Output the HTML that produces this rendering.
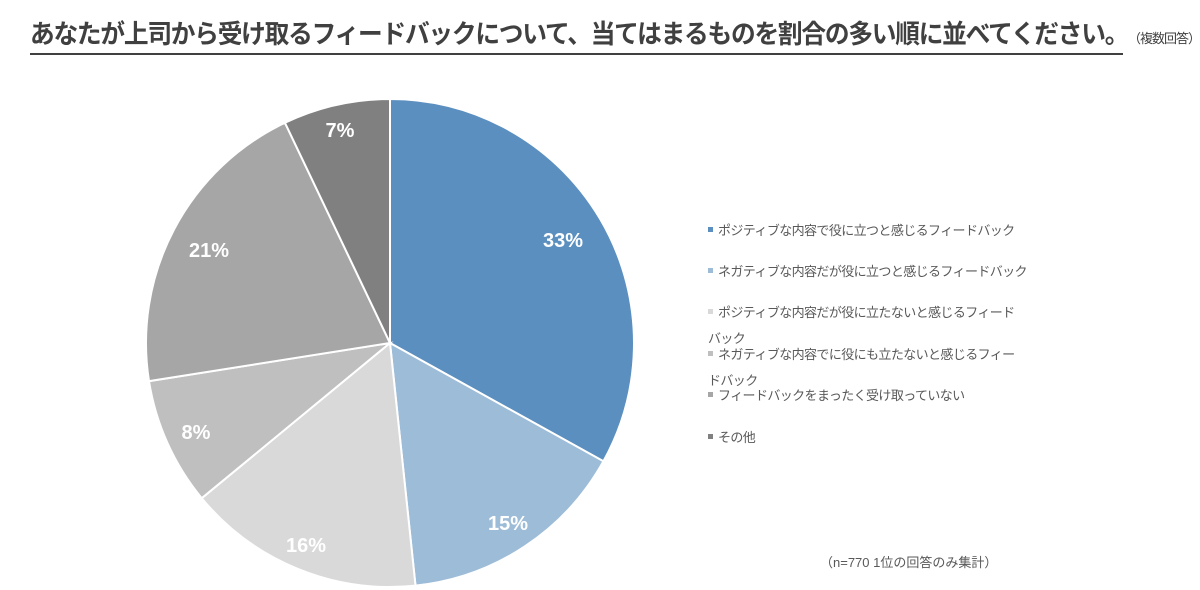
<!DOCTYPE html>
<html><head><meta charset="utf-8"><style>
html,body{margin:0;padding:0;background:#fff;}
body{width:1200px;height:590px;position:relative;overflow:hidden;font-family:"Liberation Sans","Noto Sans CJK JP",sans-serif;}
.title{position:absolute;left:30px;top:14px;font-size:26px;font-weight:bold;color:#404040;letter-spacing:-1.3px;white-space:nowrap;transform:scaleX(0.95);transform-origin:0 0;}
.uline{position:absolute;left:30px;top:53px;width:1093px;height:2px;background:#404040;}
.sub{position:absolute;left:1128px;top:28px;font-size:13px;color:#404040;white-space:nowrap;letter-spacing:-1px;}
.leg{position:absolute;left:708px;font-size:13px;color:#595959;white-space:nowrap;line-height:26px;letter-spacing:-0.6px;}
.leg i{display:inline-block;width:5px;height:5px;margin-right:5px;vertical-align:middle;position:relative;top:-2px;}
.note{position:absolute;left:820px;top:552px;font-size:13px;color:#595959;}
</style></head><body>
<div class="title">あなたが上司から受け取るフィードバックについて、当てはまるものを割合の多い順に並べてください。</div>
<div class="uline"></div>
<div class="sub">（複数回答）</div>
<svg id="pie" width="1200" height="590" style="position:absolute;left:0;top:0"></svg>
<div class="leg" style="top:218px"><i style="background:#5b8fbf"></i>ポジティブな内容で役に立つと感じるフィードバック</div>
<div class="leg" style="top:259px"><i style="background:#9dbcd8"></i>ネガティブな内容だが役に立つと感じるフィードバック</div>
<div class="leg" style="top:300px"><i style="background:#d9d9d9"></i>ポジティブな内容だが役に立たないと感じるフィード<br>バック</div>
<div class="leg" style="top:342px"><i style="background:#bfbfbf"></i>ネガティブな内容でに役にも立たないと感じるフィー<br>ドバック</div>
<div class="leg" style="top:383px"><i style="background:#a6a6a6"></i>フィードバックをまったく受け取っていない</div>
<div class="leg" style="top:425px"><i style="background:#808080"></i>その他</div>
<div class="note">（n=770 1位の回答のみ集計）</div>
<script>
var cx=390,cy=343,r=244;
var a=[0,119,174,230.5,261,334.5,360];
var col=["#5b8fbf","#9dbcd8","#d9d9d9","#bfbfbf","#a6a6a6","#808080"];
var s="";
function pt(d){var t=d*Math.PI/180;return [cx+r*Math.sin(t),cy-r*Math.cos(t)];}
for(var i=0;i<6;i++){var p=pt(a[i]),q=pt(a[i+1]);var lg=(a[i+1]-a[i])>180?1:0;
s+='<path d="M'+cx+','+cy+' L'+p[0]+','+p[1]+' A'+r+','+r+' 0 '+lg+' 1 '+q[0]+','+q[1]+' Z" fill="'+col[i]+'" stroke="#fff" stroke-width="2"/>';}
var L=[["33%",563,240],["15%",508,523],["16%",306,545],["8%",196,432],["21%",209,250],["7%",340,130]];
L.forEach(function(l){s+='<text x="'+l[1]+'" y="'+(l[2]+7)+'" text-anchor="middle" font-family="Liberation Sans, sans-serif" font-weight="bold" font-size="20" fill="#fff">'+l[0]+'</text>';});
document.getElementById("pie").innerHTML=s;
</script>
</body></html>
